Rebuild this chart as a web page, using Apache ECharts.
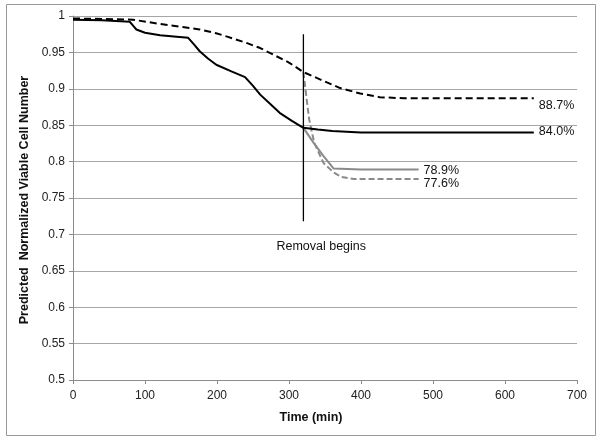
<!DOCTYPE html>
<html><head><meta charset="utf-8">
<script src="https://cdn.jsdelivr.net/npm/echarts@6/dist/echarts.min.js"></script>
<style>html,body{margin:0;padding:0;background:#fff}#c{width:604px;height:440px}</style>
</head><body><div id="c"></div>
<script>
// Data (time in min, normalized viable cell number)
const solidBlack = [[0,0.995],[40,0.994],[79,0.992],[84,0.986],[88,0.9815],[100,0.977],[121,0.9736],[140,0.972],[160,0.970],[168,0.961],[176,0.9516],[187,0.942],[199,0.933],[220,0.924],[239,0.916],[250,0.904],[260,0.892],[274,0.879],[287,0.867],[304,0.856],[320,0.8464],[340,0.844],[360,0.842],[400,0.840],[500,0.840],[640,0.840]];
const dashedBlack = [[0,0.9966],[40,0.996],[83,0.995],[121,0.989],[150,0.985],[176,0.9815],[200,0.976],[213,0.972],[241,0.963],[260,0.956],[278,0.947],[300,0.936],[320,0.923],[343,0.913],[371,0.901],[399,0.8935],[426,0.8885],[460,0.887],[550,0.887],[640,0.887]];
const solidGray = [[320,0.8464],[334,0.826],[348,0.8075],[362,0.7905],[400,0.789],[480,0.789]];
const dashedGray = [[320,0.923],[324,0.890],[328,0.858],[335,0.826],[348,0.798],[362,0.785],[373,0.779],[390,0.776],[480,0.776]];
const removalLine = [[320,0.975],[320,0.718]];
const endLabels = ['88.7%','84.0%','78.9%','77.6%'];
const xTicks = [0,100,200,300,400,500,600,700];
const yTicks = [0.5,0.55,0.6,0.65,0.7,0.75,0.8,0.85,0.9,0.95,1];
const annotationText = 'Removal begins';
const xTitle = 'Time (min)';
const yTitle = 'Predicted  Normalized Viable Cell Number';

const FONT = 'Liberation Sans, Arial, sans-serif';
const chart = echarts.init(document.getElementById('c'), null, {renderer:'canvas'});
function endLbl(text, off){
  return {show:true, formatter:text, offset:off, color:'#111', fontFamily:FONT, fontSize:12.5, distance:0};
}
chart.setOption({
  animation:false,
  backgroundColor:'#fff',
  grid:{left:73, right:27, top:16, bottom:60, containLabel:false},
  xAxis:{type:'value', min:xTicks[0], max:xTicks[xTicks.length-1], interval:100,
    axisLine:{show:true, lineStyle:{color:'#8c8c8c', width:1}},
    axisTick:{show:true, length:4, inside:false, lineStyle:{color:'#8c8c8c'}},
    axisLabel:{color:'#222', fontFamily:FONT, fontSize:12, margin:10},
    splitLine:{show:false}},
  yAxis:{type:'value', min:yTicks[0], max:yTicks[yTicks.length-1], interval:0.05,
    axisLine:{show:true, lineStyle:{color:'#8c8c8c', width:1}},
    axisTick:{show:true, length:4, lineStyle:{color:'#8c8c8c'}},
    axisLabel:{color:'#222', fontFamily:FONT, fontSize:12, margin:8,
      formatter:v=>String(parseFloat(v.toFixed(2)))},
    splitLine:{show:true, lineStyle:{color:'#a6a6a6', width:1}}},
  series:[
    {type:'line', data:dashedBlack, symbol:'none', z:3,
     lineStyle:{color:'#000', width:2, type:[7,4]},
     endLabel:endLbl(endLabels[0],[5,7])},
    {type:'line', data:solidBlack, symbol:'none', z:4,
     lineStyle:{color:'#000', width:2},
     endLabel:endLbl(endLabels[1],[5,-1])},
    {type:'line', data:solidGray, symbol:'none', z:2,
     lineStyle:{color:'#8a8a8a', width:2},
     endLabel:endLbl(endLabels[2],[5,1])},
    {type:'line', data:dashedGray, symbol:'none', z:2,
     lineStyle:{color:'#8a8a8a', width:2, type:[6,3]},
     endLabel:endLbl(endLabels[3],[5,4])},
    {type:'line', data:removalLine, symbol:'none', z:5,
     lineStyle:{color:'#000', width:1.3},
     endLabel:{show:true, formatter:annotationText, position:'bottom', color:'#111', fontFamily:FONT, fontSize:12.5, offset:[-35,25]}}
  ],
  graphic:[
    {type:'rect', shape:{x:6.5, y:4.5, width:589, height:431}, style:{fill:null, stroke:'#999', lineWidth:1}, z:-1, silent:true},
    {type:'text', x:311, y:418, style:{text:xTitle, font:'bold 12.5px '+FONT, fill:'#111', textAlign:'center', textVerticalAlign:'middle'}},
    {type:'text', x:25, y:200, rotation:Math.PI/2, style:{text:yTitle, font:'bold 12.5px '+FONT, fill:'#111', textAlign:'center', textVerticalAlign:'middle'}}
  ]
});
</script></body></html>
